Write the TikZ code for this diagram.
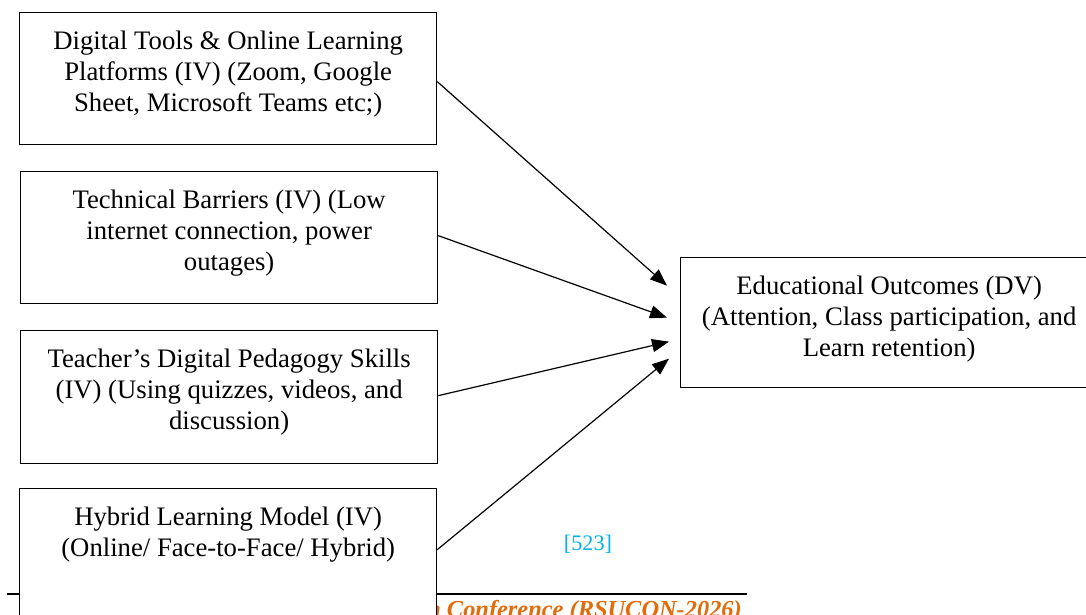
\documentclass[tikz,border=0pt]{standalone}
\usepackage{fontspec}
\setmainfont{Liberation Serif}
\usetikzlibrary{arrows.meta}
\definecolor{pagecyan}{HTML}{00B0F0}
\definecolor{conforange}{HTML}{E36C0A}
% fixed-size text frame: first baseline 37pt below the top edge
\newcommand\boxlines[2][132pt]{\parbox[t][#1][t]{417pt}{\centering\rule{0pt}{37pt}#2}}

\begin{document}
\begin{tikzpicture}[x=1pt,y=-1pt,
  varbox/.style={draw, line width=1.3pt, fill=white, inner sep=0pt,
    anchor=north west, font=\fontsize{26.7}{31}\selectfont},
  link/.style={line width=1.2pt, -{Triangle[length=17pt,width=13pt]}}]
\useasboundingbox (0,0) rectangle (1086,614);
\clip (0,0) rectangle (1086,614);

% footer rule and conference line
\draw[line width=2pt] (7,594) coordinate (rulestart) -- (747,594) coordinate (ruleend);
\node[anchor=base east, inner sep=0pt, text=conforange,
  font=\fontsize{24.4}{28}\selectfont\bfseries\itshape] (conf) at (742,617)
  {h Conference (RSUCON-2026)};
\node[text=pagecyan, inner sep=0pt, font=\fontsize{22.2}{26}\selectfont] (pagenum) at (588,544) {[523]};

% independent variables
\node[varbox] (b1) at (19,12) {\boxlines{Digital Tools \& Online Learning\\ Platforms (IV) (Zoom, Google\\ Sheet, Microsoft Teams etc;)}};
\node[varbox] (b2) at (20,171) {\boxlines{Technical Barriers (IV) (Low\\ internet connection, power\\ outages)}};
\node[varbox] (b3) at (20,330) {\boxlines[133pt]{Teacher’s Digital Pedagogy Skills\\ (IV) (Using quizzes, videos, and\\ discussion)}};
\node[varbox] (b4) at (19,488) {\boxlines{Hybrid Learning Model (IV)\\ (Online/ Face-to-Face/ Hybrid)}};

% dependent variable
\node[varbox] (out) at (680,257) {\boxlines[130pt]{Educational Outcomes (DV)\\ (Attention, Class participation, and\\ Learn retention)}};

% arrow tips in front of the outcome box
\coordinate (t1) at ([shift={(-13,-37)}]out.west);
\coordinate (t2) at ([shift={(-13,-5)}]out.west);
\coordinate (t3) at ([shift={(-11,19)}]out.west);
\coordinate (t4) at ([shift={(-11,36)}]out.west);

\draw[link] ([shift={(0,3)}]b1.east) -- (t1);
\draw[link] ([shift={(0,-2)}]b2.east) -- (t2);
\draw[link] ([shift={(0,-1.5)}]b3.east) -- (t3);
\draw[link] ([shift={(0,-5)}]b4.east) -- (t4);
\end{tikzpicture}
\end{document}
